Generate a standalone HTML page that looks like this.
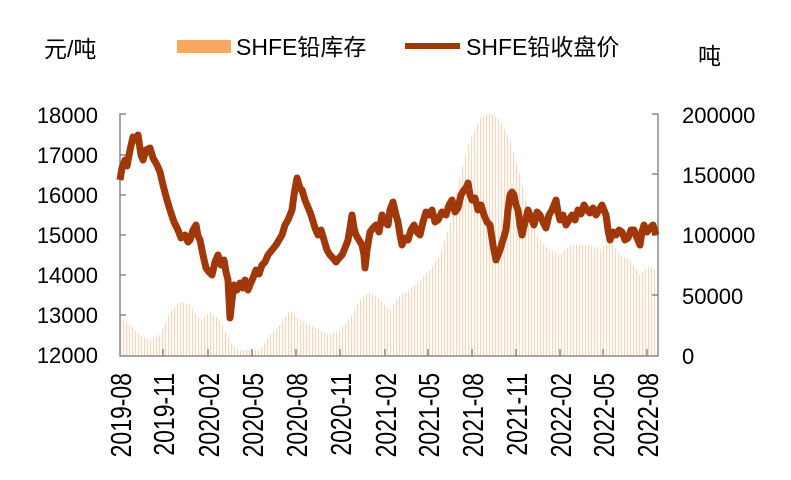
<!DOCTYPE html>
<html><head><meta charset="utf-8"><style>
body{margin:0;background:#fff}
svg text{font-family:"Liberation Sans","Noto Sans CJK SC",sans-serif;fill:#000}
</style></head><body>
<svg width="791" height="475" viewBox="0 0 791 475">
<defs>
<pattern id="st" width="3" height="10" patternUnits="userSpaceOnUse"><rect x="0" y="0" width="1.2" height="10" fill="#F8D6BA"/></pattern>
</defs>
<text x="44" y="57" font-size="23">元/吨</text>
<text x="698" y="64" font-size="23">吨</text>
<rect x="177" y="40" width="54" height="13" fill="#F8A860"/>
<text x="236" y="55" font-size="23">SHFE铅库存</text>
<line x1="405" y1="46" x2="460" y2="46" stroke="#A0380A" stroke-width="6"/>
<text x="466" y="55" font-size="23">SHFE铅收盘价</text>
<polygon fill="url(#st)" points="120,356 120,315 130,325 140,335 150,340 160,335 170,312 180,302 190,305 200,320 210,312 220,320 232,345 240,350 260,350 270,335 280,325 290,310 300,320 310,325 320,330 330,335 340,330 350,318 360,300 370,292 380,300 390,310 400,295 410,290 420,280 430,270 440,255 450,225 460,175 470,140 480,118 490,113 500,120 510,140 520,175 530,220 540,240 550,250 560,255 570,245 580,245 590,245 600,250 610,240 620,255 630,260 640,275 650,265 656,270 656,356"/>
<g stroke="#888" stroke-width="1.5" fill="none">
<polyline points="126,114 120,114 120,356 658,356 658,114 652,114"/>
<path d="M120,155h6M120,195h6M120,235h6M120,275h6M120,315h6M658,174h-6M658,235h-6M658,295h-6"/>
<path d="M163,356v-7M208,356v-7M252,356v-7M296,356v-7M340,356v-7M385,356v-7M428,356v-7M472,356v-7M516,356v-7M560,356v-7M603,356v-7M647,356v-7"/>
</g>
<polyline fill="none" stroke="#A0380A" stroke-width="7" stroke-linejoin="round" points="120,180 122,168 125,160 127,166 130,150 133,137 136,140 138,135 141,155 143,160 146,150 150,148 153,158 157,165 160,172 163,185 167,200 170,210 174,222 178,230 181,238 185,235 188,242 190,240 193,230 196,225 198,236 200,240 203,255 206,268 209,272 212,275 215,262 218,255 221,265 224,260 226,272 228,280 230,318 232,300 234,285 237,290 240,283 243,288 245,280 248,290 250,285 253,278 256,270 259,274 262,265 265,262 268,255 272,250 276,245 279,240 282,235 285,225 288,220 290,215 292,210 294,195 297,178 300,188 302,190 305,200 307,205 310,212 312,218 315,228 318,235 321,230 324,240 327,250 330,255 333,258 336,262 339,258 342,255 345,248 348,240 350,228 352,215 354,228 356,235 359,240 362,245 364,255 365,268 367,250 370,232 373,228 376,225 379,232 382,215 385,222 388,225 390,210 393,202 396,215 398,222 400,235 402,245 405,238 408,240 411,230 414,225 417,232 420,235 423,222 426,212 429,215 432,210 435,222 438,220 442,212 446,215 449,205 452,200 455,212 458,208 461,195 464,190 466,188 468,183 470,195 472,200 475,198 478,210 481,205 484,215 487,222 490,225 493,245 496,260 498,255 500,250 503,240 506,230 508,210 510,195 512,192 514,195 516,205 518,210 520,225 522,235 525,222 528,210 531,218 534,225 537,212 540,215 543,222 546,228 549,215 552,210 554,205 556,200 558,212 560,220 563,215 566,225 569,220 572,215 575,220 578,210 581,214 584,205 587,210 590,213 593,208 596,215 599,210 602,205 604,210 606,215 608,230 610,240 613,232 616,235 619,230 622,232 625,240 628,238 631,230 634,230 637,238 640,245 642,232 644,225 647,232 650,228 653,225 656,235"/>
<g font-size="22" text-anchor="end">
<text x="98" y="123">18000</text><text x="98" y="163">17000</text><text x="98" y="203">16000</text><text x="98" y="243">15000</text><text x="98" y="283">14000</text><text x="98" y="323">13000</text><text x="98" y="363">12000</text>
</g>
<g font-size="22">
<text x="682" y="123">200000</text><text x="682" y="183">150000</text><text x="682" y="243">100000</text><text x="682" y="304">50000</text><text x="682" y="364">0</text>
</g>
<g font-size="23" text-anchor="end">
<text transform="translate(131,373) rotate(-90) scale(1,1.25)">2019-08</text>
<text transform="translate(174,373) rotate(-90) scale(1,1.25)">2019-11</text>
<text transform="translate(219,373) rotate(-90) scale(1,1.25)">2020-02</text>
<text transform="translate(263,373) rotate(-90) scale(1,1.25)">2020-05</text>
<text transform="translate(307,373) rotate(-90) scale(1,1.25)">2020-08</text>
<text transform="translate(351,373) rotate(-90) scale(1,1.25)">2020-11</text>
<text transform="translate(396,373) rotate(-90) scale(1,1.25)">2021-02</text>
<text transform="translate(439,373) rotate(-90) scale(1,1.25)">2021-05</text>
<text transform="translate(483,373) rotate(-90) scale(1,1.25)">2021-08</text>
<text transform="translate(527,373) rotate(-90) scale(1,1.25)">2021-11</text>
<text transform="translate(571,373) rotate(-90) scale(1,1.25)">2022-02</text>
<text transform="translate(614,373) rotate(-90) scale(1,1.25)">2022-05</text>
<text transform="translate(658,373) rotate(-90) scale(1,1.25)">2022-08</text>
</g>
</svg>
</body></html>
